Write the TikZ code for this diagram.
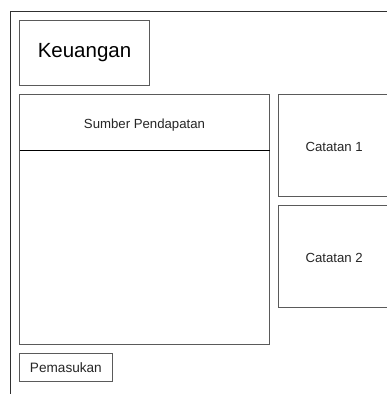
\documentclass[tikz,border=0pt]{standalone}
\usepackage{fontspec}
\setmainfont{Liberation Sans}
\definecolor{boxgray}{HTML}{5A5A5A}
\definecolor{framegray}{HTML}{303030}
\begin{document}
\begin{tikzpicture}[x=1pt,y=-1pt,
  panel/.style={draw=boxgray,line width=1pt,rectangle,inner sep=0pt,fill=white},
  lbl/.style={font=\fontsize{13.2}{15}\selectfont,text=black!85,inner sep=0pt}]
\useasboundingbox (0,0) rectangle (387,394);
\clip (0,0) rectangle (387,394);
\fill[white] (0,0) rectangle (387,394);
% outer frame
\coordinate (fb) at (10.5,396);
\coordinate (ft) at (10.5,11.5);
\coordinate (fr) at (390,11.5);
\draw[framegray,line width=1pt] (fb) -- (ft) -- (fr);
% Keuangan
\node[panel,minimum width=129.5pt,minimum height=64.5pt,
  font=\fontsize{20.5}{24}\selectfont,text=black] (keu) at (84.5,52.75) {Keuangan};
% Sumber Pendapatan
\node[panel,minimum width=250pt,minimum height=250pt] (sumber) at (144.5,219.75) {};
\coordinate (dl) at (19.5,150.3);
\coordinate (dr) at (269.5,150.3);
\draw[black,line width=1pt] (dl) -- (dr);
\node[lbl] (sumtxt) at (144.5,124.8) {Sumber Pendapatan};
% Catatan boxes
\node[panel,minimum width=111pt,minimum height=101.5pt] (cat1) at (334.2,145.5) {};
\node[lbl] (cat1t) at (334.2,146.7) {Catatan 1};
\node[panel,minimum width=111pt,minimum height=101.5pt] (cat2) at (334.2,256.5) {};
\node[lbl] (cat2t) at (334.2,257.5) {Catatan 2};
% Pemasukan
\node[panel,minimum width=92.8pt,minimum height=28pt,font=\fontsize{13.6}{15}\selectfont,text=black!85] (pem) at (65.9,367.9) {Pemasukan};
\end{tikzpicture}
\end{document}
